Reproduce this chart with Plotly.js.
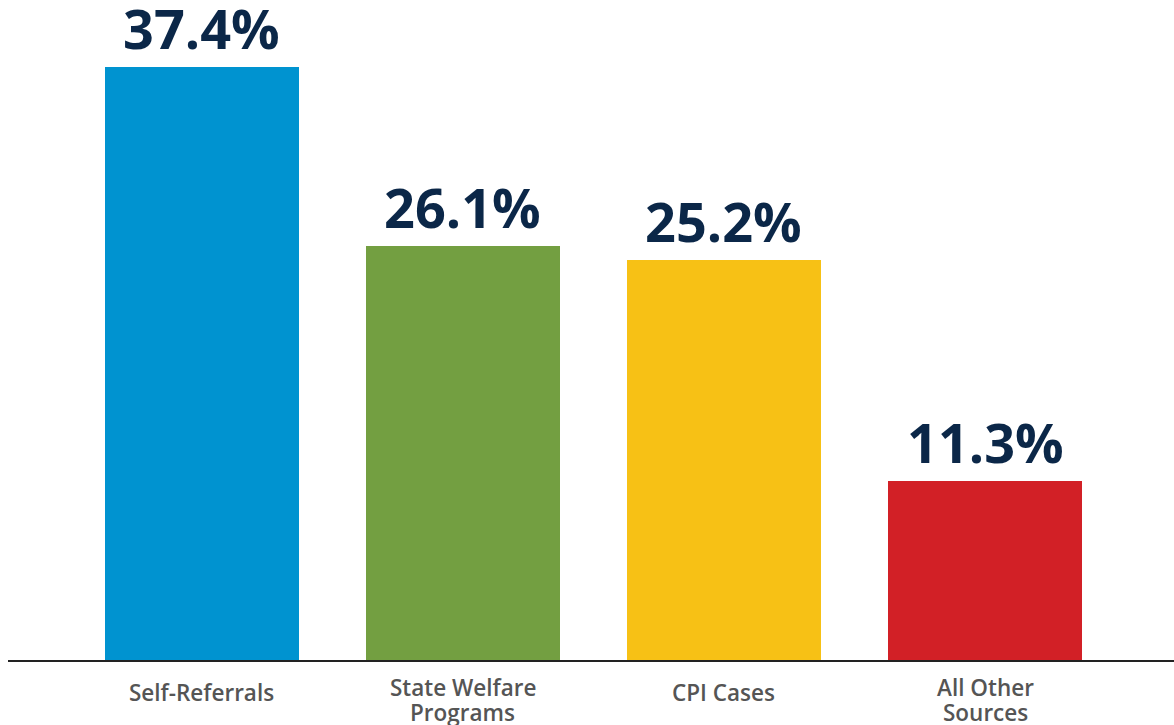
<!DOCTYPE html>
<html>
<head>
<meta charset="utf-8">
<script src="https://cdn.plot.ly/plotly-3.0.1.min.js"></script>
<style>html,body{margin:0;padding:0;background:#fff;}#chart{width:1174px;height:725px;}</style>
</head>
<body>
<div id="chart"></div>
<script>
const categories = ["Self-Referrals", "State Welfare<br>Programs", "CPI Cases", "All Other<br>Sources"];
const values = [37.4, 26.1, 25.2, 11.3];
const valueLabels = ["37.4%", "26.1%", "25.2%", "11.3%"];
const barColors = ["#0093d0", "#739f41", "#f7c115", "#d22026"];

const trace = {
  type: "bar",
  x: categories,
  y: values,
  width: 0.74,
  marker: {color: barColors, line: {width: 0}},
  hoverinfo: "none"
};

const annotations = categories.map((c, i) => ({
  x: c, y: values[i], xref: "x", yref: "y",
  text: valueLabels[i], showarrow: false,
  yanchor: "bottom", yshift: 0,
  font: {family: "Open Sans", size: 54, color: "#0b2748", weight: 700}
}));

// category labels drawn below the axis, one annotation per text line
categories.forEach((c) => {
  const lines = c.split("<br>");
  lines.forEach((ln, j) => {
    const shift = lines.length === 1 ? -32 : -(27 + 25 * j);
    annotations.push({
      x: c, y: 0, xref: "x", yref: "paper",
      text: ln, showarrow: false,
      yanchor: "middle", yshift: shift,
      font: {family: "Open Sans", size: 22.5, color: "#555", weight: 600}
    });
  });
});

const layout = {
  width: 1174, height: 725,
  margin: {l: 8, r: 0, t: 0, b: 65},
  paper_bgcolor: "#fff", plot_bgcolor: "#fff",
  showlegend: false,
  bargap: 0,
  xaxis: {
    type: "category",
    range: [-0.743, 3.724],
    showline: true, linecolor: "#222", linewidth: 2,
    ticks: "", showgrid: false, zeroline: false,
    showticklabels: false,
    fixedrange: true
  },
  yaxis: {
    range: [0, 41.6],
    visible: false, showgrid: false, zeroline: false,
    fixedrange: true
  },
  annotations: annotations
};

Plotly.newPlot("chart", [trace], layout, {displayModeBar: false, staticPlot: true});
</script>
</body>
</html>
